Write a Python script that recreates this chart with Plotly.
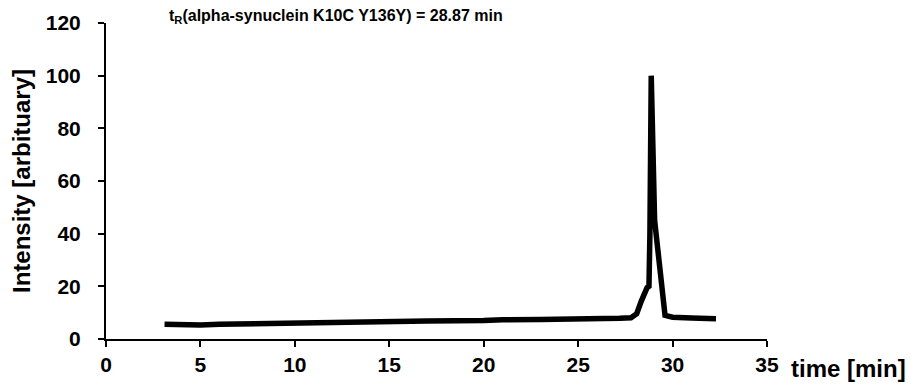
import plotly.graph_objects as go

# HPLC trace: retention time (min) vs. detector intensity (arbitrary units)
time_min = [3.1, 4.0, 5.0, 6.0, 8.0, 10.0, 12.0, 14.0, 15.0, 15.3, 17.0, 20.0,
            20.5, 21.0, 23.0, 25.0, 27.0, 27.2, 27.8, 28.1, 28.35, 28.45, 28.55,
            28.65, 28.75, 28.8, 28.87, 28.95, 29.05, 29.6, 30.0, 31.0, 32.3]
intensity = [5.6, 5.4, 5.3, 5.6, 5.9, 6.2, 6.4, 6.5, 6.8, 6.6, 6.8, 7.0,
             7.4, 7.3, 7.4, 7.4, 7.4, 7.9, 8.1, 9.6, 14.5, 16.5, 17.5,
             19.5, 20.0, 40.0, 100.0, 60.0, 45.0, 9.0, 8.3, 8.0, 7.7]

x_ticks = [0, 5, 10, 15, 20, 25, 30, 35]
y_ticks = [0, 20, 40, 60, 80, 100, 120]

title_text = "t<sub>R</sub>(alpha-synuclein K10C Y136Y) = 28.87 min"
x_label = "time [min]"
y_label = "Intensity [arbituary]"

FONT = "Arial, Liberation Sans, Helvetica, sans-serif"

fig = go.Figure(
    go.Scatter(
        x=time_min,
        y=intensity,
        mode="lines",
        line=dict(color="black", width=5.5),
        hoverinfo="skip",
    )
)

axis_common = dict(
    showgrid=False,
    zeroline=False,
    showline=True,
    linecolor="black",
    linewidth=2,
    ticks="outside",
    ticklen=6,
    tickwidth=2,
    tickcolor="black",
    tickfont=dict(family=FONT, size=21, color="black", weight="bold"),
)

fig.update_xaxes(range=[0, 35], tickvals=x_ticks, **axis_common)
fig.update_yaxes(range=[0, 120], tickvals=y_ticks, ticklabelstandoff=13,
                 **axis_common)

fig.update_layout(
    width=918,
    height=389,
    margin=dict(l=106, r=151, t=23, b=50),
    plot_bgcolor="white",
    paper_bgcolor="white",
    showlegend=False,
    annotations=[
        dict(
            text=title_text, xref="paper", yref="paper",
            x=(167 - 106) / 661, y=1.0 + (23 - 17) / 316,
            xanchor="left", yanchor="middle", showarrow=False,
            font=dict(family=FONT, size=16, color="black", weight="bold"),
        ),
        dict(
            text=x_label, xref="paper", yref="paper",
            x=(789 - 106) / 661, y=0, yshift=-14,
            xanchor="left", yanchor="top", showarrow=False,
            font=dict(family=FONT, size=24, color="black", weight="bold"),
        ),
        dict(
            text=y_label, xref="paper", yref="paper",
            x=0, xshift=-85, y=(339 - 181) / 316,
            xanchor="center", yanchor="middle", textangle=-90, showarrow=False,
            font=dict(family=FONT, size=24, color="black", weight="bold"),
        ),
    ],
)

fig.write_html("out.html")
